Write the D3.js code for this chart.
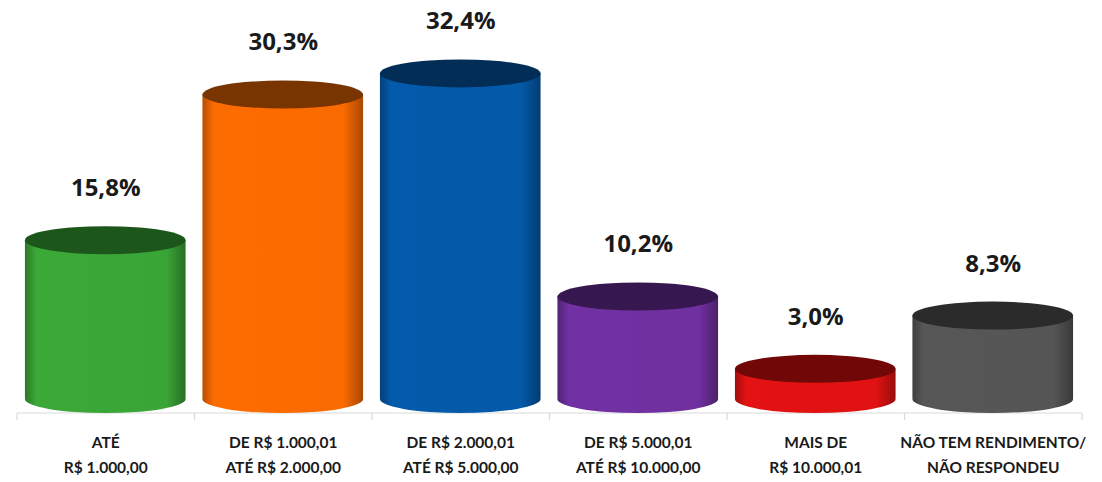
<!DOCTYPE html>
<html>
<head>
<meta charset="utf-8">
<script src="https://cdn.jsdelivr.net/npm/d3@7"></script>
<style>
  body { margin: 0; background: #fff; }
</style>
</head>
<body>
<div id="chart"></div>
<script>
const categories = [
  ["ATÉ", "R$ 1.000,00"],
  ["DE R$ 1.000,01", "ATÉ R$ 2.000,00"],
  ["DE R$ 2.000,01", "ATÉ R$ 5.000,00"],
  ["DE R$ 5.000,01", "ATÉ R$ 10.000,00"],
  ["MAIS DE", "R$ 10.000,01"],
  ["NÃO TEM RENDIMENTO/", "NÃO RESPONDEU"]
];
const values = [15.8, 30.3, 32.4, 10.2, 3.0, 8.3];
const labels = ["15,8%", "30,3%", "32,4%", "10,2%", "3,0%", "8,3%"];
const bodyColors = ["#3aa537", "#f96a00", "#0459a8", "#7030a0", "#e01212", "#555555"];
const topColors = ["#1d561b", "#793500", "#022d57", "#37174f", "#720707", "#2b2b2b"];

const W = 1102, H = 482;
const AXIS_Y = 413;
const RY = 14;

const svg = d3.select("#chart").append("svg")
  .attr("width", W)
  .attr("height", H);

const keys = categories.map((d, i) => i);

const x = d3.scaleBand()
  .domain(keys)
  .range([17, 1082])
  .padding(0);

// bottom ellipse centre sits RY above the axis line
const y = d3.scaleLinear()
  .domain([0, 35])
  .range([AXIS_Y - RY, AXIS_Y - RY - 35 * 10.05]);

const defs = svg.append("defs");
keys.forEach(i => {
  const base = d3.color(bodyColors[i]);
  const g = defs.append("linearGradient")
    .attr("id", "grad" + i)
    .attr("x1", "0%").attr("x2", "100%")
    .attr("y1", "0%").attr("y2", "0%");
  g.append("stop").attr("offset", "0%").attr("stop-color", base.darker(0.9));
  g.append("stop").attr("offset", "7%").attr("stop-color", base.brighter(0.05));
  g.append("stop").attr("offset", "88%").attr("stop-color", base);
  g.append("stop").attr("offset", "100%").attr("stop-color", base.darker(1.1));
});

// axis line and category dividers
svg.append("line")
  .attr("x1", x.range()[0]).attr("x2", x.range()[1])
  .attr("y1", AXIS_Y).attr("y2", AXIS_Y)
  .attr("stroke", "#d9d9d9").attr("stroke-width", 1.2);

const dividers = keys.map(i => x(i)).concat([x.range()[1]]);
svg.selectAll(".divider")
  .data(dividers)
  .enter().append("line")
  .attr("class", "divider")
  .attr("x1", d => d).attr("x2", d => d)
  .attr("y1", AXIS_Y).attr("y2", AXIS_Y + 7)
  .attr("stroke", "#d9d9d9").attr("stroke-width", 1.2);

const cylW = x.bandwidth() * 0.905;
const rx = cylW / 2;

const bars = svg.selectAll(".bar")
  .data(keys)
  .enter().append("g")
  .attr("class", "bar");

bars.append("path")
  .attr("d", i => {
    const cx = x(i) + x.bandwidth() / 2 - 0.5;
    const x0 = cx - rx, x1 = cx + rx;
    const yt = y(values[i]), yb = y(0);
    return `M${x0},${yt} L${x0},${yb} A${rx},${RY} 0 0 0 ${x1},${yb} L${x1},${yt} Z`;
  })
  .attr("fill", i => `url(#grad${i})`);

bars.append("ellipse")
  .attr("cx", i => x(i) + x.bandwidth() / 2 - 0.5)
  .attr("cy", i => y(values[i]))
  .attr("rx", rx)
  .attr("ry", RY)
  .attr("fill", i => topColors[i]);

bars.append("text")
  .attr("x", i => x(i) + x.bandwidth() / 2)
  .attr("y", i => y(values[i]) - 44)
  .attr("text-anchor", "middle")
  .attr("font-family", "'Open Sans', sans-serif")
  .attr("font-weight", 700)
  .attr("font-size", "24px")
  .attr("fill", "#1a1a1a")
  .text(i => labels[i]);

const catText = svg.selectAll(".cat")
  .data(keys)
  .enter().append("text")
  .attr("class", "cat")
  .attr("text-anchor", "middle")
  .attr("font-family", "Lato, 'Open Sans', sans-serif")
  .attr("font-weight", 700)
  .attr("font-size", "15.5px")
  .attr("fill", "#1a1a1a");

catText.selectAll("tspan")
  .data(i => categories[i].map(t => ({ t, i })))
  .enter().append("tspan")
  .attr("x", d => x(d.i) + x.bandwidth() / 2)
  .attr("y", (d, j) => 448 + j * 25)
  .text(d => d.t);
</script>
</body>
</html>
